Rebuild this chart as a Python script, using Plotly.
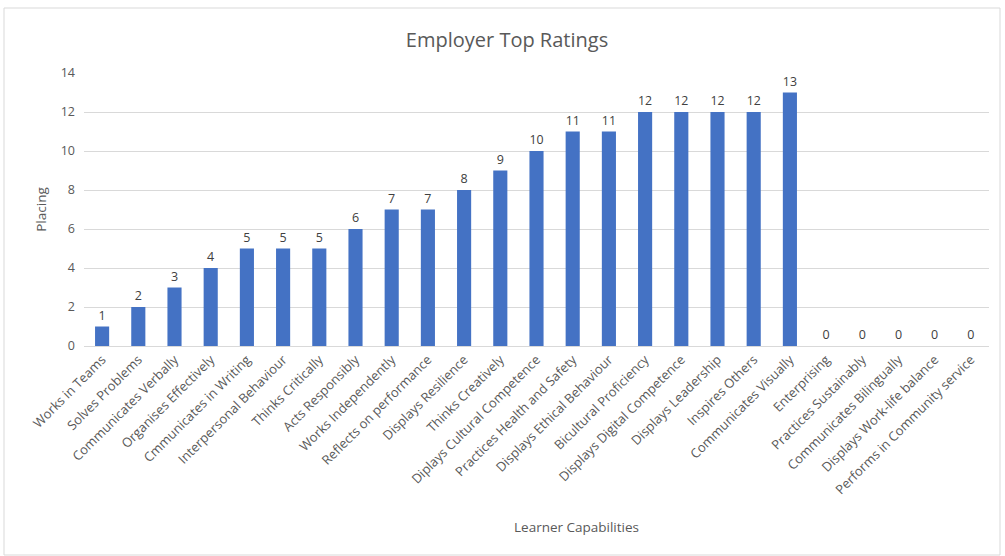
import plotly.graph_objects as go

categories = ["Works in Teams", "Solves Problems", "Communicates Verbally", "Organises Effectively",
              "Cmmunicates in Writing", "Interpersonal Behaviour", "Thinks Critically", "Acts Responsibly",
              "Works Independently", "Reflects on performance", "Displays Resilience", "Thinks Creatively",
              "Diplays Cultural Competence", "Practices Health and Safety", "Displays Ethical Behaviour",
              "Bicultural Proficiency", "Displays Digital Competence", "Displays Leadership", "Inspires Others",
              "Communicates Visually", "Enterprising", "Practices Sustainably", "Communicates Bilingually",
              "Displays Work-life balance", "Performs in Community service"]
values = [1, 2, 3, 4, 5, 5, 5, 6, 7, 7, 8, 9, 10, 11, 11, 12, 12, 12, 12, 13, 0, 0, 0, 0, 0]
y_ticks = [0, 2, 4, 6, 8, 10, 12, 14]

FONT = "Open Sans"
GRAY = "#595959"

fig = go.Figure(go.Bar(
    x=categories, y=values, marker_color="#4472C4", marker_line_width=0,
    text=[str(v) for v in values], textposition="outside", cliponaxis=False,
    textfont=dict(family=FONT, size=12.5, color="#404040"), width=0.39,
))

L, R, T, B = 84, 16, 73, 210
W, H = 1005, 556
pw, ph = W - L - R, H - T - B

def px(x):
    return (x - L) / pw

def py(y):
    return (H - B - y) / ph

fig.update_layout(
    width=W, height=H, margin=dict(l=L, r=R, t=T, b=B),
    paper_bgcolor="white", plot_bgcolor="white",
    font=dict(family=FONT, color=GRAY, size=12),
    title=dict(text="Employer Top Ratings", x=507 / W, xref="container", xanchor="center",
               y=1 - 40 / H, yanchor="middle",
               font=dict(family=FONT, size=20, color=GRAY)),
    showlegend=False,
    xaxis=dict(tickangle=-45, tickfont=dict(size=13, color=GRAY), showline=True, linecolor="#d9d9d9",
               ticks="", showgrid=False),
    yaxis=dict(range=[0, 14], tickvals=y_ticks, showgrid=True, gridcolor="#d9d9d9", zeroline=False,
               ticks="", tickfont=dict(size=12.5, color=GRAY), ticklabelstandoff=8,
               title=dict(text="Placing", font=dict(size=13.5, color=GRAY), standoff=10)),
    annotations=[dict(text="Learner Capabilities", x=px(576), y=py(527), xref="paper", yref="paper",
                      showarrow=False, font=dict(size=13.5, color=GRAY), xanchor="center", yanchor="middle")],
    shapes=[dict(type="rect", xref="paper", yref="paper", x0=px(4), x1=px(1000), y0=py(555), y1=py(8),
                 line=dict(color="#d9d9d9", width=1), layer="below")],
)

fig.write_html("out.html")
